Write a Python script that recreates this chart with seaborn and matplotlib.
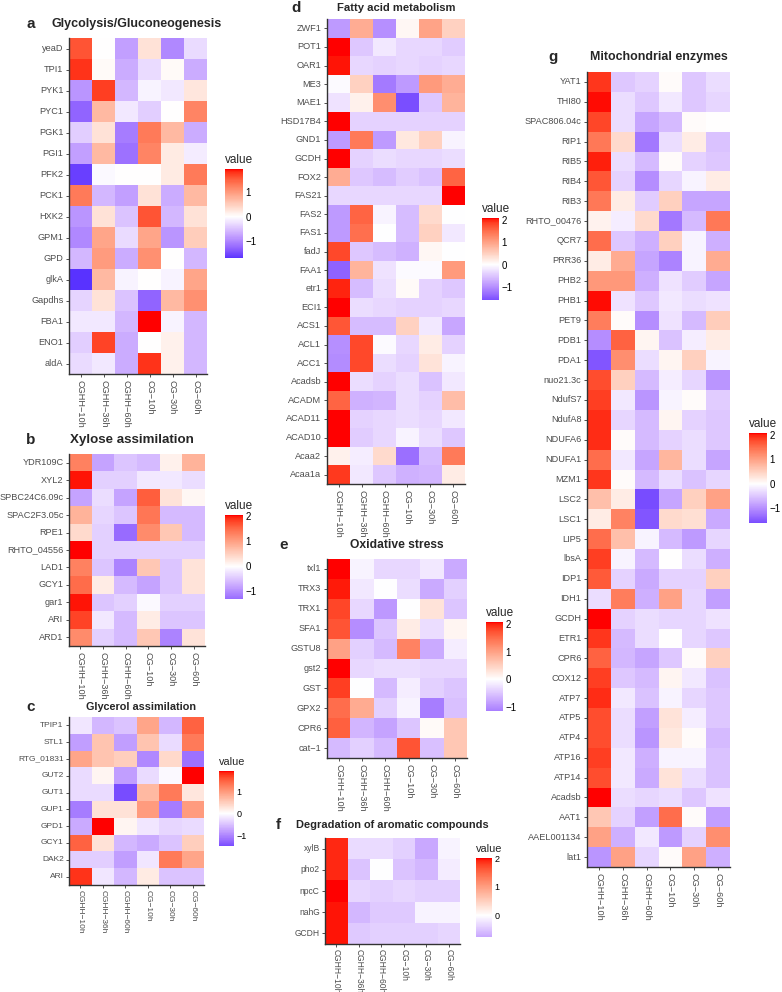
import numpy as np
import pandas as pd
import seaborn as sns
from matplotlib import pyplot as plt
from matplotlib.colors import ListedColormap

samples = ["CGHH−10h", "CGHH−36h", "CGHH−60h", "CG−10h", "CG−30h", "CG−60h"]

# a - Glycolysis/Gluconeogenesis
glyco_genes = ["yeaD", "TPI1", "PYK1", "PYC1", "PGK1", "PGI1", "PFK2", "PCK1",
               "HXK2", "GPM1", "GPD", "glkA", "Gapdhs", "FBA1", "ENO1", "aldA"]
glyco_vals = [
    [1.6, 0.0, -0.8, 0.3, -1.0, -0.3],
    [1.8, 0.05, -0.7, -0.3, 0.05, -0.7],
    [-0.9, 1.75, -0.6, -0.1, -0.2, 0.25],
    [-1.3, 0.7, -0.2, -0.4, 0.0, 1.2],
    [-0.4, 0.3, -1.1, 1.3, 0.7, -0.7],
    [-0.8, 0.7, -1.2, 1.2, 0.2, -0.15],
    [-1.6, -0.05, 0.0, 0.0, 0.2, 1.3],
    [1.3, -0.6, -0.8, 0.3, -0.7, 0.7],
    [-0.9, 0.3, -0.5, 1.6, -0.6, 0.3],
    [-1.0, 0.9, -0.3, 0.9, -0.9, 0.5],
    [-0.6, 1.0, -0.7, 1.1, 0.0, -0.6],
    [-1.7, 0.7, -0.1, 0.0, -0.1, 0.9],
    [-0.35, 0.3, -0.5, -1.3, 0.7, 1.1],
    [-0.2, -0.2, -0.6, 1.95, -0.1, -0.6],
    [-0.4, 1.7, -0.7, 0.0, 0.15, -0.6],
    [-0.3, -0.2, -0.7, 1.8, 0.15, -0.6],
]

# b - Xylose assimilation
xylose_genes = ["YDR109C", "XYL2", "SPBC24C6.09c", "SPAC2F3.05c", "RPE1", "RHTO_04556",
                "LAD1", "GCY1", "gar1", "ARI", "ARD1"]
xylose_vals = [
    [1.3, -0.8, -0.5, -0.6, 0.15, 0.8],
    [2.0, -0.4, -0.4, -0.2, -0.2, -0.3],
    [-0.8, -0.3, -0.8, 1.6, 0.3, 0.1],
    [0.8, -0.35, -0.5, 1.4, -0.6, -0.6],
    [0.4, -0.4, -1.3, 1.2, 0.6, -0.6],
    [2.05, -0.4, -0.4, -0.4, -0.4, -0.4],
    [1.3, -0.5, -1.1, 0.6, -0.5, 0.3],
    [1.5, 0.2, -0.6, -0.8, -0.5, 0.3],
    [2.0, -0.5, -0.4, -0.05, -0.4, -0.4],
    [1.8, -0.2, -0.6, 0.2, -0.5, -0.5],
    [1.2, -0.4, -0.6, 0.6, -1.1, 0.3],
]

# c - Glycerol assimilation
glycerol_genes = ["TPIP1", "STL1", "RTG_01831", "GUT2", "GUT1", "GUP1", "GPD1",
                  "GCY1", "DAK2", "ARI"]
glycerol_vals = [
    [-0.2, -0.6, -0.5, 0.9, -0.6, 1.5],
    [-0.8, 0.6, -0.8, 0.6, -0.3, 1.3],
    [0.9, 0.6, 0.5, -1.0, 0.4, -1.2],
    [-0.3, 0.1, -0.8, -0.3, -0.05, 1.95],
    [-0.3, -0.3, -1.5, 0.7, 1.3, 0.25],
    [-1.1, 0.3, 0.3, 1.0, -1.1, 1.0],
    [-0.7, 1.95, 0.1, -0.2, -0.35, -0.3],
    [1.5, 0.3, -0.6, -0.7, -0.5, 0.5],
    [-0.4, -0.4, -0.8, -0.2, 1.3, 0.9],
    [1.8, -0.2, -0.6, 0.2, -0.5, -0.5],
]

# d - Fatty acid metabolism
fatty_genes = ["ZWF1", "POT1", "OAR1", "ME3", "MAE1", "HSD17B4", "GND1", "GCDH", "FOX2",
               "FAS21", "FAS2", "FAS1", "fadJ", "FAA1", "etr1", "ECI1", "ACS1", "ACL1",
               "ACC1", "Acadsb", "ACADM", "ACAD11", "ACAD10", "Acaa2", "Acaa1a"]
fatty_vals = [
    [-0.9, 0.9, -1.0, 0.1, 1.0, 0.5],
    [2.1, -0.5, -0.2, -0.35, -0.35, -0.45],
    [2.05, -0.35, -0.4, -0.35, -0.4, -0.35],
    [-0.05, 0.5, -1.2, -0.9, 1.1, 0.9],
    [-0.25, 0.15, 1.2, -1.6, -0.5, 0.8],
    [2.1, -0.4, -0.4, -0.4, -0.4, -0.4],
    [-0.9, 1.4, -0.9, 0.25, 0.5, -0.1],
    [2.1, -0.4, -0.3, -0.35, -0.35, -0.3],
    [0.9, -0.5, -0.6, -0.45, -0.55, 1.6],
    [-0.35, -0.35, -0.35, -0.35, -0.35, 2.1],
    [-0.9, 1.6, -0.1, -0.6, 0.4, 0.0],
    [-0.9, 1.5, 0.0, -0.6, 0.5, -0.2],
    [1.8, -0.5, -0.6, -0.7, 0.1, 0.0],
    [-1.4, 0.8, -0.25, -0.05, -0.05, 1.1],
    [2.0, -0.6, -0.3, 0.05, -0.4, -0.5],
    [2.1, -0.3, -0.35, -0.4, -0.4, -0.35],
    [1.7, -0.6, -0.6, 0.5, -0.2, -0.8],
    [-1.0, 1.8, -0.05, -0.35, 0.2, -0.4],
    [-1.05, 1.8, -0.3, -0.4, 0.3, -0.1],
    [2.1, -0.3, -0.4, -0.3, -0.55, -0.2],
    [1.6, -0.7, -0.65, -0.3, -0.4, 0.7],
    [2.1, -0.4, -0.35, -0.3, -0.35, -0.2],
    [2.1, -0.45, -0.35, -0.1, -0.3, -0.5],
    [0.15, -0.15, 0.4, -1.3, -0.6, 1.4],
    [1.9, -0.2, -0.5, -0.7, -0.65, 0.2],
]

# e - Oxidative stress
oxid_genes = ["txl1", "TRX3", "TRX1", "SFA1", "GSTU8", "gst2", "GST", "GPX2", "CPR6", "cat−1"]
oxid_vals = [
    [2.05, -0.1, -0.35, -0.35, -0.2, -0.75],
    [2.0, -0.2, 0.0, -0.3, -0.75, -0.4],
    [1.8, -0.35, -0.9, 0.0, 0.3, -0.5],
    [1.7, -1.0, -0.5, 0.2, -0.3, 0.1],
    [1.0, -0.4, -0.6, 1.3, -0.75, -0.15],
    [2.07, -0.35, -0.3, -0.3, -0.35, -0.35],
    [1.85, 0.0, -0.6, -0.15, -0.4, -0.5],
    [1.5, 0.9, -0.4, -0.1, -1.15, -0.55],
    [1.6, -0.65, -0.8, -0.5, 0.05, 0.6],
    [-0.6, -0.4, -0.6, 1.7, -0.55, 0.6],
]

# f - Degradation of aromatic compounds
arom_genes = ["xylB", "pho2", "npcC", "nahG", "GCDH"]
arom_vals = [
    [1.9, -0.3, -0.3, -0.4, -0.75, -0.1],
    [1.9, -0.5, 0.0, -0.5, -0.6, -0.15],
    [2.0, -0.35, -0.4, -0.35, -0.4, -0.4],
    [1.95, -0.6, -0.45, -0.45, -0.1, -0.1],
    [1.95, -0.45, -0.4, -0.4, -0.4, -0.35],
]

# g - Mitochondrial enzymes
mito_genes = ["YAT1", "THI80", "SPAC806.04c", "RIP1", "RIB5", "RIB4", "RIB3", "RHTO_00476",
              "QCR7", "PRR36", "PHB2", "PHB1", "PET9", "PDB1", "PDA1", "nuo21.3c", "NdufS7",
              "NdufA8", "NDUFA6", "NDUFA1", "MZM1", "LSC2", "LSC1", "LIP5", "lbsA", "IDP1",
              "IDH1", "GCDH", "ETR1", "CPR6", "COX12", "ATP7", "ATP5", "ATP4", "ATP16",
              "ATP14", "Acadsb", "AAT1", "AAEL001134", "lat1"]
mito_vals = [
    [1.9, -0.5, -0.4, 0.05, -0.5, -0.3],
    [2.05, -0.3, -0.5, -0.2, -0.5, -0.35],
    [1.8, -0.3, -0.8, -0.6, 0.05, 0.0],
    [1.4, 0.4, -1.2, -0.3, 0.2, -0.55],
    [2.0, -0.3, -0.6, 0.05, -0.4, -0.5],
    [1.7, -0.4, -1.0, -0.35, -0.1, 0.2],
    [1.4, 0.2, -0.45, 0.5, -0.8, -0.8],
    [0.15, -0.15, 0.4, -1.2, -0.6, 1.4],
    [1.5, -0.5, -0.7, 0.5, -0.1, -0.7],
    [0.2, 0.9, -0.8, -1.1, -0.1, 0.9],
    [1.1, 1.1, -0.7, -0.25, -0.45, -0.8],
    [2.05, -0.25, -0.5, -0.2, -0.3, -0.25],
    [1.35, 0.05, -1.0, -0.25, -0.6, 0.55],
    [-1.0, 1.6, 0.1, -0.55, -0.15, 0.2],
    [-1.5, 1.2, -0.3, 0.1, 0.5, -0.1],
    [1.75, 0.5, -0.6, -0.15, -0.35, -0.95],
    [1.85, -0.2, -0.95, -0.1, 0.05, -0.45],
    [1.95, -0.35, -0.6, 0.1, -0.4, -0.5],
    [1.95, 0.05, -0.6, -0.4, -0.3, -0.5],
    [1.5, -0.2, -0.8, 0.8, -0.3, -0.8],
    [1.9, 0.05, -0.6, -0.3, -0.55, -0.35],
    [0.7, 0.2, -1.6, -0.8, 0.5, 1.0],
    [0.2, 1.3, -1.5, 0.4, 0.35, -0.75],
    [1.5, 0.7, -0.1, -0.6, -0.9, -0.35],
    [1.85, -0.1, -0.6, 0.0, -0.3, -0.7],
    [1.65, -0.4, -0.75, -0.4, -0.4, 0.5],
    [-0.3, 1.35, -0.7, 1.0, -0.35, -0.85],
    [2.08, -0.4, -0.3, -0.35, -0.35, -0.25],
    [1.9, -0.6, -0.3, 0.0, -0.35, -0.5],
    [1.6, -0.65, -0.8, -0.5, 0.05, 0.5],
    [1.85, -0.5, -0.6, 0.1, -0.2, -0.55],
    [1.95, -0.2, -0.55, -0.1, -0.35, -0.5],
    [1.75, -0.3, -0.85, 0.3, -0.15, -0.5],
    [1.75, -0.3, -0.95, 0.25, 0.05, -0.6],
    [1.85, -0.2, -0.7, -0.1, -0.1, -0.55],
    [1.75, -0.2, -0.75, 0.3, -0.3, -0.55],
    [2.08, -0.3, -0.35, -0.3, -0.5, -0.25],
    [0.6, -0.4, -0.85, 1.5, 0.05, -0.85],
    [1.0, -0.7, -0.2, -0.9, -0.4, 1.2],
    [-0.95, 1.0, -0.35, 0.05, 1.0, -0.7],
]


# blue - white - red gradient interpolated in Lab space (like ggplot gradient2)
M = np.array([[0.4124, 0.3576, 0.1805], [0.2126, 0.7152, 0.0722], [0.0193, 0.1192, 0.9505]])
WHITE_REF = np.array([0.95047, 1.0, 1.08883])


def to_lab(rgb):
    c = np.asarray(rgb, float)
    c = np.where(c > 0.04045, ((c + 0.055) / 1.055) ** 2.4, c / 12.92)
    xyz = M @ c / WHITE_REF
    f = np.where(xyz > 0.008856, np.cbrt(xyz), 7.787 * xyz + 16 / 116)
    return np.array([116 * f[1] - 16, 500 * (f[0] - f[1]), 200 * (f[1] - f[2])])


def from_lab(lab):
    L, a, b = lab
    fy = (L + 16) / 116
    f = np.array([fy + a / 500, fy, fy - b / 200])
    xyz = np.where(f ** 3 > 0.008856, f ** 3, (f - 16 / 116) / 7.787) * WHITE_REF
    c = np.linalg.inv(M) @ xyz
    c = np.clip(c, 0, None)
    c = np.where(c > 0.0031308, 1.055 * c ** (1 / 2.4) - 0.055, 12.92 * c)
    return np.clip(c, 0, 1)


lab_blue, lab_white, lab_red = to_lab([0, 0, 1]), to_lab([1, 1, 1]), to_lab([1, 0, 0])
colors = []
for t in np.linspace(0, 1, 256):
    if t < 0.5:
        colors.append(from_lab(lab_blue + (lab_white - lab_blue) * (t / 0.5)))
    else:
        colors.append(from_lab(lab_white + (lab_red - lab_white) * ((t - 0.5) / 0.5)))
bwr_lab = ListedColormap(colors)

sns.set_style("white")
plt.rcParams['font.family'] = ['Liberation Sans', 'DejaVu Sans']

W, H = 782, 992
fig = plt.figure(figsize=(W / 100, H / 100), dpi=100)


def box(x0, y0, x1, y1):
    return [x0 / W, 1 - y1 / H, (x1 - x0) / W, (y1 - y0) / H]


def panel(letter, title, genes, vals, heat, cb, title_xy, letter_x, title_size, scale=1.0):
    df = pd.DataFrame(vals, index=genes, columns=samples)
    ax = fig.add_axes(box(*heat))
    cax = fig.add_axes(box(*cb))
    vmin, vmax = df.values.min(), df.values.max()
    ticks = [t for t in range(-3, 4) if vmin <= t <= vmax]
    sns.heatmap(df, ax=ax, cbar_ax=cax, cmap=bwr_lab, center=0, vmin=vmin, vmax=vmax,
                linewidths=0, cbar_kws={'ticks': ticks})
    ax.set_xlabel("")
    ax.set_ylabel("")
    ax.set_xticklabels(samples, rotation=270)
    ax.set_yticklabels(genes, rotation=0)
    for s in ['left', 'bottom']:
        ax.spines[s].set_visible(True)
        ax.spines[s].set_color('#333333')
        ax.spines[s].set_linewidth(1.0)
    ax.tick_params(bottom=True, left=True, length=2.5 * scale, width=0.6, color='#333333',
                   labelsize=6.6 * scale, labelcolor='#4D4D4D', pad=1.5)

    cbar = ax.collections[0].colorbar
    cbar.outline.set_visible(False)
    cbar.ax.tick_params(left=True, right=True, labelleft=False, labelright=True, direction='in',
                        length=3 * scale, width=0.6, color='white', labelsize=7 * scale,
                        labelcolor='black', pad=2)
    cbar.ax.set_title("value", loc='left', fontsize=8.5 * scale, pad=4.5)

    tx, ty = title_xy
    fig.text(tx / W, 1 - ty / H, title, ha='center', va='center',
             fontsize=title_size, fontweight='bold')
    fig.text(letter_x / W, 1 - ty / H, letter, ha='center', va='center',
             fontsize=11, fontweight='bold')


panel("a", "Glycolysis/Gluconeogenesis", glyco_genes, glyco_vals,
      (69, 38, 207, 374), (225, 169, 243, 258), (137, 24), 31, 9)
panel("b", "Xylose assimilation", xylose_genes, xylose_vals,
      (69, 454, 205, 646), (225, 515, 243, 599), (132, 440), 31, 9.6)
panel("c", "Glycerol assimilation", glycerol_genes, glycerol_vals,
      (69, 717, 204, 885), (219, 771, 234, 846), (141, 707), 31, 7.8, 0.92)
panel("d", "Fatty acid metabolism", fatty_genes, fatty_vals,
      (327, 19, 465, 484), (482, 218, 499, 300), (396, 8), 296, 8.1)
panel("e", "Oxidative stress", oxid_genes, oxid_vals,
      (327, 559, 467, 758), (486, 622, 503, 711), (397, 545), 284, 8.7)
panel("f", "Degradation of aromatic compounds", arom_genes, arom_vals,
      (325, 838, 460, 944), (476, 858, 492, 937), (392, 825), 278, 7.9, 0.93)
panel("g", "Mitochondrial enzymes", mito_genes, mito_vals,
      (587, 72, 730, 867), (749, 433, 767, 523), (659, 57), 553, 8.9)

fig.savefig("out.png", dpi=100)
